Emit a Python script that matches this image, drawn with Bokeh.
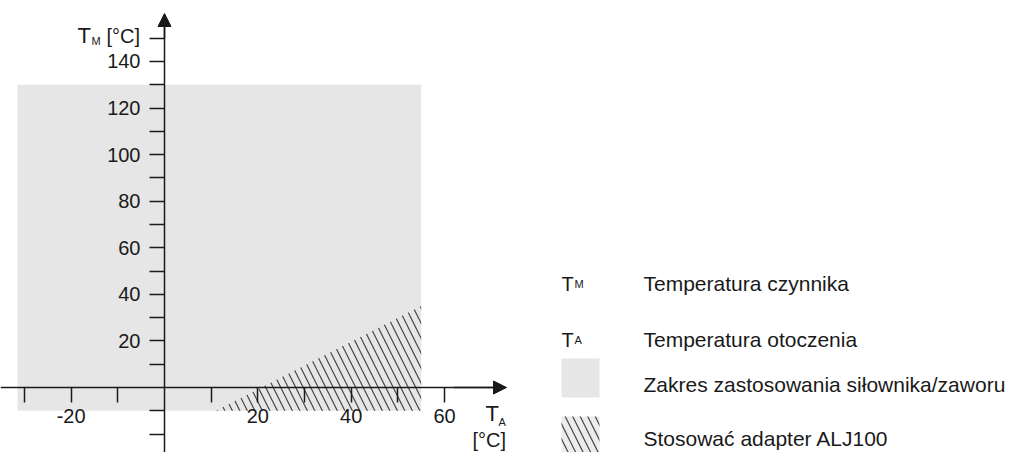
from bokeh.plotting import figure
from bokeh.models import LinearAxis, FixedTicker, Arrow, NormalHead, Label, Range1d
from bokeh.embed import file_html
from bokeh.resources import INLINE

# ---- data ----
# operating range of actuator/valve (ambient T_A vs medium T_M)
range_left = [-31.5]
range_right = [55]
range_bottom = [-10]
range_top = [130]
# region where adapter ALJ100 is required
adapter_ta = [11, 55, 55]
adapter_tm = [-10, 35, -10]
# axis ticks and labels
x_ticks = [-30, -20, -10, 10, 20, 30, 40, 50, 60]
x_labels = ["", "-20", "", "", "20", "", "40", "", "60"]
y_ticks = [-20, -10, 10, 20, 30, 40, 50, 60, 70, 80, 90, 100, 110, 120, 130, 140, 150]
y_labels = ["", "", "", "20", "", "40", "", "60", "", "80", "", "100", "", "120", "", "140", ""]
legend_texts = ["Temperatura czynnika", "Temperatura otoczenia",
                "Zakres zastosowania siłownika/zaworu", "Stosować adapter ALJ100"]

FONT = "Liberation Sans"
W, H = 1013, 452
XS = 4.667   # px per unit (x)
YS = 2.3286  # px per unit (y)
X0, Y0 = 164, 387  # px of origin

def dx(wx):
    return (wx - X0) / XS

def dy(wy):
    return (Y0 - wy) / YS

p = figure(width=W, height=H, output_backend="svg", toolbar_location=None,
           x_axis_type=None, y_axis_type=None, min_border=0,
           x_range=Range1d(-X0 / XS, (W - X0) / XS),
           y_range=Range1d((Y0 - H) / YS, Y0 / YS))
p.outline_line_color = None
p.grid.visible = False
p.background_fill_color = "white"

GRAY = "#e6e6e6"
HATCH = "#444444"
HSCALE = 15

# gray range
p.quad(left=range_left, right=range_right, bottom=range_bottom, top=range_top,
       fill_color=GRAY, line_color=None)
# hatched adapter region
p.patch(x=adapter_ta, y=adapter_tm, fill_alpha=0, line_color=None,
        hatch_pattern="\\", hatch_color=HATCH, hatch_weight=1.2, hatch_scale=HSCALE)

AX_COLOR = "#1a1a1a"

xaxis = LinearAxis(fixed_location=0, ticker=FixedTicker(ticks=x_ticks),
                   major_label_overrides={t: l for t, l in zip(x_ticks, x_labels)},
                   bounds=(-40, 71))
yaxis = LinearAxis(fixed_location=0, ticker=FixedTicker(ticks=y_ticks),
                   major_label_overrides={t: l for t, l in zip(y_ticks, y_labels)},
                   bounds=(-30, 158))
for ax in (xaxis, yaxis):
    ax.major_tick_out = 15
    ax.major_tick_in = 0
    ax.minor_tick_out = 0
    ax.minor_tick_in = 0
    ax.axis_line_color = AX_COLOR
    ax.axis_line_width = 1.5
    ax.major_tick_line_color = AX_COLOR
    ax.major_tick_line_width = 1.5
    ax.major_label_text_font = FONT
    ax.major_label_text_font_size = "20px"
    ax.major_label_text_color = "#1a1a1a"
xaxis.major_label_standoff = 6
yaxis.major_label_standoff = 9
p.add_layout(xaxis, "below")
p.add_layout(yaxis, "left")

# arrow heads
p.add_layout(Arrow(end=NormalHead(size=13, fill_color=AX_COLOR, line_color=AX_COLOR),
                   x_start=62, y_start=0, x_end=dx(506), y_end=0,
                   line_color=AX_COLOR, line_width=1.5))
p.add_layout(Arrow(end=NormalHead(size=13, fill_color=AX_COLOR, line_color=AX_COLOR),
                   x_start=0, y_start=150, x_end=0, y_end=dy(13),
                   line_color=AX_COLOR, line_width=1.5))

def lab(text, wx, wy, size, align="left"):
    p.add_layout(Label(x=dx(wx), y=dy(wy), text=text, text_font=FONT,
                       text_font_size=size, text_color="#1a1a1a",
                       text_baseline="alphabetic", text_align=align))

# axis titles
lab("T", 77, 35, "22px")
lab("M", 91, 40, "11px")
lab("[°C]", 106, 35, "20px")
lab("T", 485, 413, "22px")
lab("A", 498, 421, "11px")
lab("[°C]", 472, 439, "20px")

# legend
lab("T", 561, 283, "20px")
lab("M", 574, 283, "11px")
lab("T", 561, 339, "20px")
lab("A", 574, 339, "11px")
p.quad(left=[dx(561)], right=[dx(599)], bottom=[dy(460)], top=[dy(416)],
       fill_color="#ececec", line_color=None, hatch_pattern="\\", hatch_color=HATCH,
       hatch_weight=1.2, hatch_scale=HSCALE)
p.quad(left=[dx(561)], right=[dx(599)], bottom=[dy(397)], top=[dy(358)],
       fill_color=GRAY, line_color=None)
for t, wy in zip(legend_texts, [283, 339, 384, 438]):
    lab(t, 643, wy, "21px")

open("out.html", "w").write(file_html(p, INLINE))
